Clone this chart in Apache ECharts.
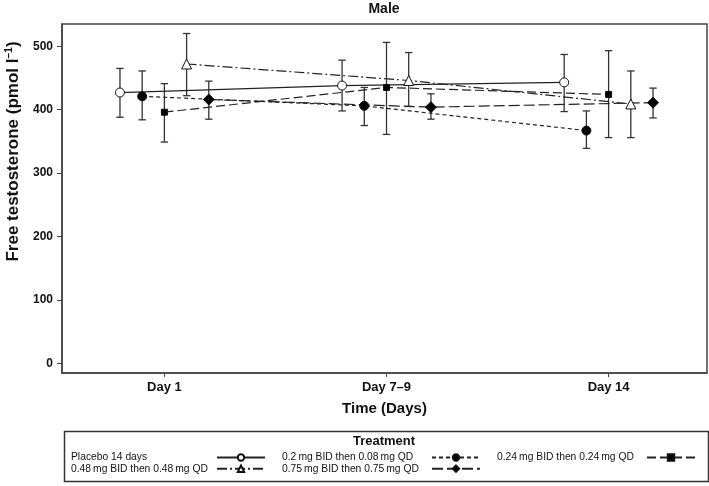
<!DOCTYPE html>
<html><head><meta charset="utf-8">
<script src="https://cdn.jsdelivr.net/npm/echarts@6/dist/echarts.min.js"></script>
<style>html,body{margin:0;padding:0;background:#fff}#c{width:709px;height:486px}</style>
</head><body><div id="c"></div>
<script>
// ---- data ----
const dayLabels = ['Day 1', 'Day 7\u20139', 'Day 14'];
const yTicks = [0, 100, 200, 300, 400, 500];
const treatments = [
  'Placebo 14 days',
  '0.2\u2009mg BID then 0.08\u2009mg QD',
  '0.24\u2009mg BID then 0.24\u2009mg QD',
  '0.48\u2009mg BID then 0.48\u2009mg QD',
  '0.75\u2009mg BID then 0.75\u2009mg QD'
];
const placeboMean = [427, 438, 443];
const placeboLow  = [388, 398, 397];
const placeboHigh = [465, 478, 487];
const bid02Mean = [421, 406, 367];
const bid02Low  = [384, 375, 339];
const bid02High = [461, 435, 398];
const bid024Mean = [396, 435, 424];
const bid024Low  = [349, 361, 356];
const bid024High = [441, 506, 493];
const bid048Mean = [472, 446, 409];
const bid048Low  = [422, 405, 356];
const bid048High = [520, 490, 461];
const bid075Mean = [416, 404, 411];
const bid075Low  = [385, 385, 387];
const bid075High = [445, 425, 434];

// ---- styling ----
const groups = [
  {mean: placeboMean, low: placeboLow, high: placeboHigh, symbol: 'circle', size: 9, fill: '#fff', dash: 'solid'},
  {mean: bid02Mean, low: bid02Low, high: bid02High, symbol: 'circle', size: 9, fill: '#000', dash: [4, 3]},
  {mean: bid024Mean, low: bid024Low, high: bid024High, symbol: 'rect', size: 6, fill: '#000', dash: [9, 4]},
  {mean: bid048Mean, low: bid048Low, high: bid048High, symbol: 'triangle', size: 10, fill: '#fff', dash: [10, 3, 2, 3]},
  {mean: bid075Mean, low: bid075Low, high: bid075High, symbol: 'diamond', size: 11, fill: '#000', dash: [11, 4]}
];
const dodge = 0.1;
const FONT = 'Liberation Sans, Arial, sans-serif';

const series = [];
groups.forEach((g, k) => {
  const off = (k - 2) * dodge;
  series.push({
    name: 'err' + k,
    type: 'custom',
    silent: true,
    z: 1,
    encode: {x: 0, y: [1, 2]},
    data: g.mean.map((m, i) => [i + 1 + off, g.low[i], g.high[i]]),
    renderItem: function (params, api) {
      const x = api.value(0);
      const lo = api.coord([x, api.value(1)]);
      const hi = api.coord([x, api.value(2)]);
      const w = 3.7;
      const st = {stroke: '#333', lineWidth: 1.3};
      return {type: 'group', children: [
        {type: 'line', shape: {x1: lo[0], y1: lo[1], x2: hi[0], y2: hi[1]}, style: st},
        {type: 'line', shape: {x1: lo[0] - w, y1: lo[1], x2: lo[0] + w, y2: lo[1]}, style: st},
        {type: 'line', shape: {x1: hi[0] - w, y1: hi[1], x2: hi[0] + w, y2: hi[1]}, style: st}
      ]};
    }
  });
  series.push({
    name: treatments[k],
    type: 'line',
    z: 3,
    symbol: g.symbol,
    symbolSize: g.size,
    showAllSymbol: true,
    animation: false,
    data: g.mean.map((m, i) => [i + 1 + off, m]),
    itemStyle: {color: g.fill, borderColor: '#111', borderWidth: 1},
    lineStyle: {color: '#222', width: 1.2, type: g.dash},
    emphasis: {disabled: true}
  });
});

function legendCol(left, names, w) {
  return {
    left: left, top: 452.5, orient: 'vertical', align: 'right', padding: 0,
    itemGap: 1.2, itemWidth: 48, itemHeight: 8, selectedMode: false,
    data: names,
    formatter: function (n) { return '{a|' + n + '}'; },
    textStyle: {rich: {a: {width: w, align: 'left', fontFamily: FONT, fontSize: 10.3, color: '#111', lineHeight: 12}}}
  };
}

const chart = echarts.init(document.getElementById('c'), null, {renderer: 'canvas'});
chart.setOption({
  animation: false,
  backgroundColor: '#fff',
  title: [
    {text: 'Male', left: 384, top: 2, textAlign: 'center', padding: 0,
     textStyle: {fontFamily: FONT, fontSize: 14, fontWeight: 'bold', color: '#111'}},
    {text: 'Treatment', left: 384, top: 434.5, textAlign: 'center', padding: 0,
     textStyle: {fontFamily: FONT, fontSize: 13, fontWeight: 'bold', color: '#111'}}
  ],
  grid: {left: 62, right: 2, top: 24, bottom: 113, outerBoundsMode: 'none', containLabel: false,
    show: true, borderColor: '#444', borderWidth: 1.5, backgroundColor: 'transparent'},
  xAxis: {
    type: 'value', min: 0.539, max: 3.443,
    name: 'Time (Days)', nameLocation: 'middle', nameGap: 28,
    nameTextStyle: {fontFamily: FONT, fontSize: 15, fontWeight: 'bold', color: '#111'},
    axisLine: {show: true, onZero: false, lineStyle: {color: '#444', width: 1.5}},
    axisTick: {show: true, length: 4, customValues: [1, 2, 3], lineStyle: {color: '#444'}},
    axisLabel: {customValues: [1, 2, 3], margin: 8, formatter: v => dayLabels[Math.round(v) - 1],
      fontFamily: FONT, fontSize: 13, fontWeight: 'bold', color: '#111'},
    splitLine: {show: false}
  },
  yAxis: {
    type: 'value', min: -15, max: 535,
    name: 'Free testosterone (pmol l{sup|\u22121})', nameLocation: 'middle', nameGap: 38, nameRotate: 90,
    nameTextStyle: {fontFamily: FONT, fontSize: 17, fontWeight: 'bold', color: '#111', padding: [0, 0, 0, 94],
      rich: {sup: {fontFamily: FONT, fontSize: 10, fontWeight: 'bold', color: '#111', verticalAlign: 'top', padding: [0, 0, 8, 0]}}},
    axisLine: {show: true, onZero: false, lineStyle: {color: '#444', width: 1.5}},
    axisTick: {show: true, length: 5, customValues: yTicks, lineStyle: {color: '#444'}},
    axisLabel: {customValues: yTicks, margin: 9, fontFamily: FONT, fontSize: 12, fontWeight: 'bold', color: '#111'},
    splitLine: {show: false}
  },
  legend: [
    legendCol(71, [treatments[0], treatments[3]], 141),
    legendCol(282, [treatments[1], treatments[4]], 145),
    legendCol(497, [treatments[2]], 145)
  ],
  graphic: [
    {type: 'rect', left: 62, top: 429, shape: {width: 644, height: 50}, style: {fill: 'none', stroke: '#333', lineWidth: 1.5}, silent: true}
  ],
  series: series
});
</script>
</body></html>
